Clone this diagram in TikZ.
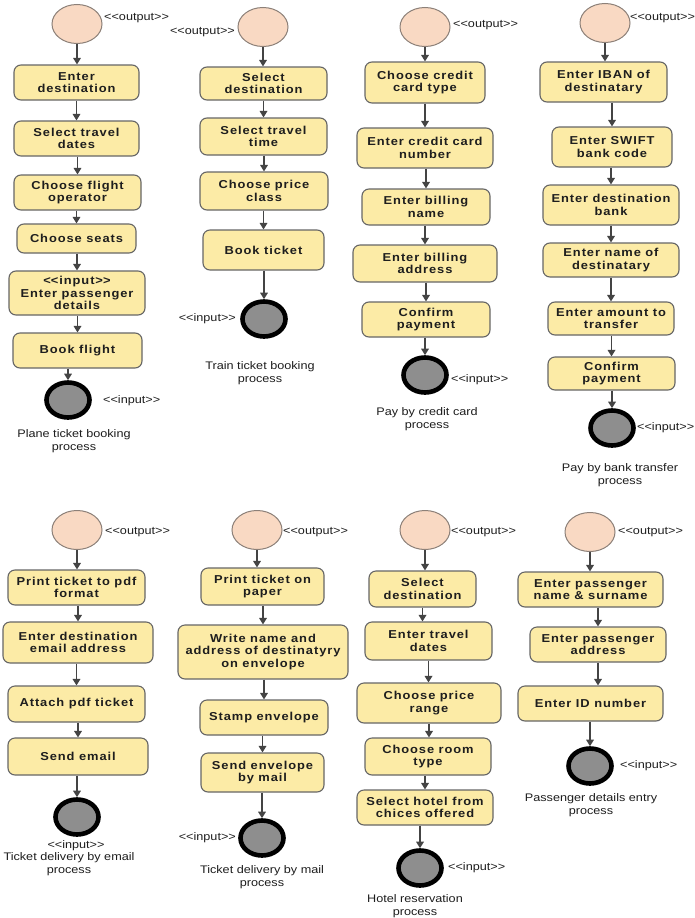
\documentclass[tikz,border=0pt]{standalone}
\usepackage{fontspec}
\setmainfont{Liberation Sans}
\newfontfamily\bxf{Liberation Sans}[FakeStretch=1.12,LetterSpace=8]
\newfontfamily\lbf{Liberation Sans}[FakeStretch=1.15]
\usetikzlibrary{shapes.geometric,arrows.meta}
\definecolor{boxfill}{HTML}{FCEBA6}
\definecolor{boxline}{HTML}{666666}
\definecolor{startfill}{HTML}{F9D9C3}
\definecolor{startline}{HTML}{8C8078}
\definecolor{endfill}{HTML}{8E8E8E}
\definecolor{arrcol}{HTML}{444444}
\definecolor{txt}{HTML}{1E1E1E}
\newcommand\llt{<\kern0pt<}
\newcommand\ggt{>\kern0pt>}
\newcommand\abox[6]{\node[actbox, minimum width={(#4)-(#2)}, minimum height={(#5)-(#3)}] (#1) at ({((#2)+(#4))/2},{((#3)+(#5))/2}) {#6};}
\newcommand\snode[4]{\node[startnd, minimum width=#4] (#1) at (#2,#3) {};}
\newcommand\enode[3]{\node[endnd] (#1) at (#2,#3) {};}
% arrow keeping x of the source
\newcommand\flowa[2]{\draw[arr] (#1.south) -- (#1.south |- #2.north);}
% arrow keeping x of the target
\newcommand\flowb[2]{\draw[arr] (#1.south -| #2.north) -- (#2.north);}
\begin{document}
\begin{tikzpicture}[x=1pt,y=-1pt,
  actbox/.style={draw=boxline, fill=boxfill, rounded corners=7pt, line width=1.1pt,
    align=center, inner sep=0pt, text=txt,
    font=\bxf\bfseries\fontsize{11.5}{12.5}\selectfont},
  startnd/.style={ellipse, draw=startline, fill=startfill, line width=1pt,
    minimum height=39, inner sep=0pt},
  endnd/.style={ellipse, draw=black, line width=4.6pt, fill=endfill,
    minimum width=43, minimum height=35, inner sep=0pt},
  lbl/.style={inner sep=0pt, text=txt, font=\lbf\fontsize{11}{12.5}\selectfont},
  captxt/.style={lbl, align=center},
  arr/.style={draw=arrcol, line width=1.7pt, -{Triangle[width=7.5pt,length=6.5pt]}}]
\fill[white] (0,0) rectangle (694,918);
\useasboundingbox (0,0) rectangle (694,918);

% ===== Plane ticket booking =====
\snode{ps}{77}{24}{50}
\node[lbl, anchor=west] (pso) at (104,18) {\llt output\ggt};
\abox{p1}{14}{65}{139}{100}{Enter\\destination}
\abox{p2}{14}{121}{139}{156}{Select travel\\dates}
\abox{p3}{14}{175}{141}{210}{Choose flight\\operator}
\abox{p4}{17}{224}{136}{253}{Choose seats}
\abox{p5}{9}{271}{145}{315}{\llt input\ggt\\Enter passenger\\details}
\abox{p6}{13}{333}{142}{368}{Book flight}
\enode{pe}{68}{400}
\node[lbl, anchor=west] (pei) at (103,401) {\llt input\ggt};
\node[captxt] (pc) at (74,441) {Plane ticket booking\\process};
\flowa{ps}{p1}\flowb{p1}{p2}\flowb{p2}{p3}\flowb{p3}{p4}\flowb{p4}{p5}\flowb{p5}{p6}\flowb{p6}{pe}

% ===== Train ticket booking =====
\snode{ts}{263}{27}{50}
\node[lbl, anchor=east] (tso) at (235,32) {\llt output\ggt};
\abox{t1}{200}{67}{327}{100}{Select\\destination}
\abox{t2}{200}{118}{327}{155}{Select travel\\time}
\abox{t3}{200}{172}{328}{210}{Choose price\\class}
\abox{t4}{203}{230}{324}{270}{Book ticket}
\enode{te}{264}{319}
\node[lbl, anchor=east] (tei) at (236,319) {\llt input\ggt};
\node[captxt] (tc) at (260,373) {Train ticket booking\\process};
\flowa{ts}{t1}\flowb{t1}{t2}\flowb{t2}{t3}\flowb{t3}{t4}\flowb{t4}{te}

% ===== Pay by credit card =====
\snode{cs}{425}{27}{50}
\node[lbl, anchor=west] (cso) at (453,25) {\llt output\ggt};
\abox{c1}{365}{62}{485}{103}{Choose credit\\card type}
\abox{c2}{357}{128}{493}{168}{Enter credit card\\number}
\abox{c3}{362}{189}{490}{225}{Enter billing\\name}
\abox{c4}{353}{245}{497}{282}{Enter billing\\address}
\abox{c5}{362}{302}{490}{337}{Confirm\\payment}
\enode{ce}{425}{375}
\node[lbl, anchor=west] (cei) at (451,380) {\llt input\ggt};
\node[captxt] (cc) at (427,419) {Pay by credit card\\process};
\flowa{cs}{c1}\flowb{c1}{c2}\flowb{c2}{c3}\flowb{c3}{c4}\flowb{c4}{c5}\flowb{c5}{ce}

% ===== Pay by bank transfer =====
\snode{bs}{605}{23}{50}
\node[lbl, anchor=west] (bso) at (630,18) {\llt output\ggt};
\abox{b1}{540}{62}{667}{102}{Enter IBAN of\\destinatary}
\abox{b2}{552}{127}{672}{167}{Enter SWIFT\\bank code}
\abox{b3}{543}{185}{679}{225}{Enter destination\\bank}
\abox{b4}{543}{243}{679}{277}{Enter name of\\destinatary}
\abox{b5}{548}{302}{674}{335}{Enter amount to\\transfer}
\abox{b6}{548}{357}{675}{390}{Confirm\\payment}
\enode{be}{612}{428}
\node[lbl, anchor=west] (bei) at (637,428) {\llt input\ggt};
\node[captxt] (bc) at (620,475) {Pay by bank transfer\\process};
\flowa{bs}{b1}\flowb{b1}{b2}\flowb{b2}{b3}\flowb{b3}{b4}\flowb{b4}{b5}\flowb{b5}{b6}\flowb{b6}{be}

% ===== Ticket delivery by email =====
\snode{es}{77}{530}{50}
\node[lbl, anchor=west] (eso) at (105,532) {\llt output\ggt};
\abox{m1}{8}{570}{145}{605}{Print ticket to pdf\\format}
\abox{m2}{3}{622}{153}{663}{Enter destination\\email address}
\abox{m3}{8}{686}{145}{722}{Attach pdf ticket}
\abox{m4}{8}{738}{148}{775}{Send email}
\enode{ee}{77}{817}
\node[lbl] (eei) at (76,846) {\llt input\ggt};
\node[captxt] (ec) at (69,864) {Ticket delivery by email\\process};
\flowa{es}{m1}\flowb{m1}{m2}\flowb{m2}{m3}\flowb{m3}{m4}\flowb{m4}{ee}

% ===== Ticket delivery by mail =====
\snode{ls}{257}{530}{50}
\node[lbl, anchor=west] (lso) at (283,532) {\llt output\ggt};
\abox{l1}{201}{568}{324}{605}{Print ticket on\\paper}
\abox{l2}{178}{625}{348}{679}{Write name and\\address of destinatyry\\on envelope}
\abox{l3}{200}{700}{328}{735}{Stamp envelope}
\abox{l4}{201}{753}{324}{792}{Send envelope\\by mail}
\enode{le}{262}{838}
\node[lbl, anchor=east] (lei) at (236,838) {\llt input\ggt};
\node[captxt] (lc) at (262,877) {Ticket delivery by mail\\process};
\flowa{ls}{l1}\flowb{l1}{l2}\flowb{l2}{l3}\flowb{l3}{l4}\flowb{l4}{le}

% ===== Hotel reservation =====
\snode{hs}{425}{530}{50}
\node[lbl, anchor=west] (hso) at (451,532) {\llt output\ggt};
\abox{h1}{369}{571}{476}{607}{Select\\destination}
\abox{h2}{365}{622}{492}{660}{Enter travel\\dates}
\abox{h3}{357}{683}{501}{723}{Choose price\\range}
\abox{h4}{365}{738}{491}{775}{Choose room\\type}
\abox{h5}{357}{790}{493}{825}{Select hotel from\\chices offered}
\enode{he}{420}{868}
\node[lbl, anchor=west] (hei) at (448,868) {\llt input\ggt};
\node[captxt] (hc) at (415,906) {Hotel reservation\\process};
\flowa{hs}{h1}\flowa{h1}{h2}\flowa{h2}{h3}\flowa{h3}{h4}\flowb{h4}{h5}\flowb{h5}{he}

% ===== Passenger details entry =====
\snode{as}{590}{532}{50}
\node[lbl, anchor=west] (aso) at (618,532) {\llt output\ggt};
\abox{a1}{518}{572}{663}{607}{Enter passenger\\name \& surname}
\abox{a2}{530}{627}{666}{662}{Enter passenger\\address}
\abox{a3}{518}{686}{663}{721}{Enter ID number}
\enode{ae}{590}{766}
\node[lbl, anchor=west] (aei) at (620,766) {\llt input\ggt};
\node[captxt] (ac) at (591,805) {Passenger details entry\\process};
\flowa{as}{a1}\flowb{a1}{a2}\flowa{a2}{a3}\flowb{a3}{ae}
\end{tikzpicture}
\end{document}
